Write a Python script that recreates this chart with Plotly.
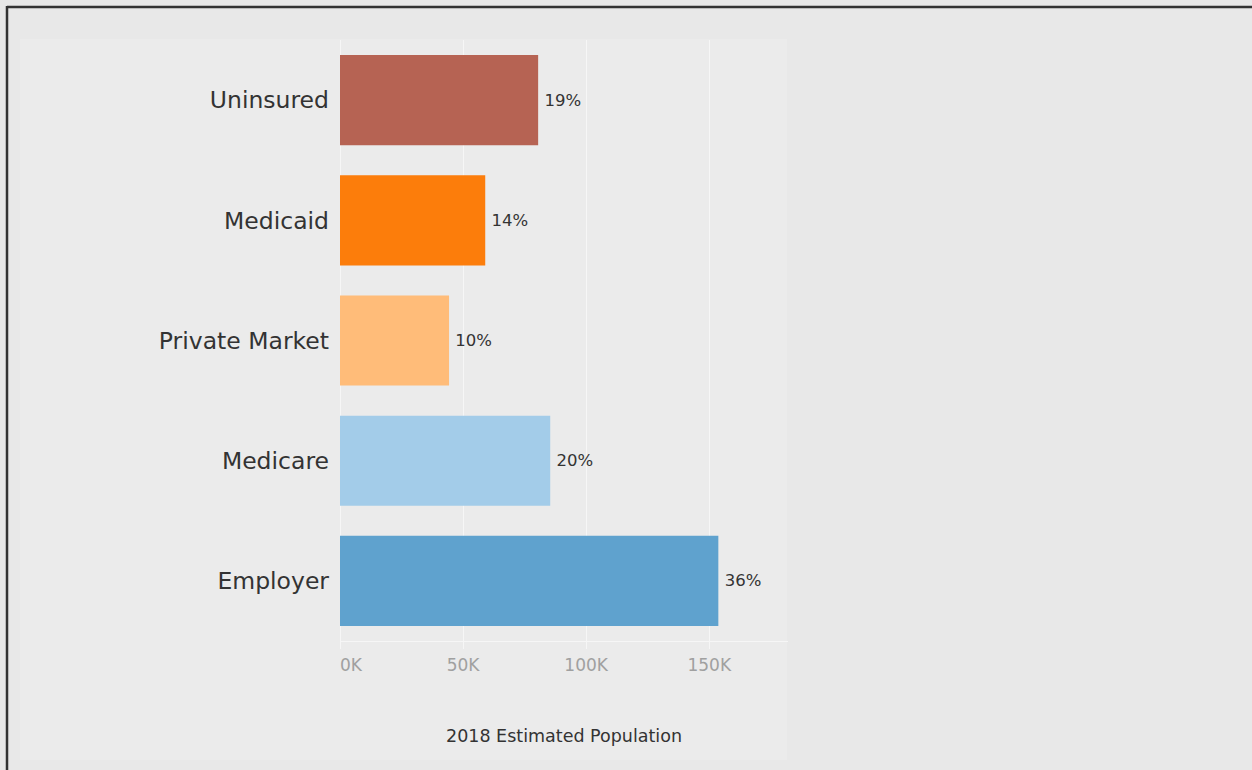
import plotly.graph_objects as go

categories = ["Uninsured", "Medicaid", "Private Market", "Medicare", "Employer"]
population = [80500, 59000, 44300, 85400, 153700]
pct_labels = ["19%", "14%", "10%", "20%", "36%"]
bar_colors = ["#b66353", "#fc7d0b", "#ffbc79", "#a3cce9", "#5fa2ce"]
tick_values = [0, 50000, 100000, 150000]
tick_labels = ["0K", "50K", "100K", "150K"]
x_title = "2018 Estimated Population"

FONT = "DejaVu Sans"
W, H = 1252, 770
L, R, T, B = 340, 464, 40, 129
pw, ph = W - L - R, H - T - B

def px(x):
    return (x - L) / pw

def py(y):
    return (H - B - y) / ph

fig = go.Figure(go.Bar(
    y=categories, x=population, orientation="h",
    marker=dict(color=bar_colors, line=dict(width=0)),
    width=0.75,
    text=["\u2009" + t for t in pct_labels], textposition="outside",
    textfont=dict(family=FONT, size=16.5, color="#333333"),
    cliponaxis=False, hoverinfo="skip",
))

shapes = [
    dict(type="rect", xref="paper", yref="paper", x0=px(20), x1=px(787), y0=py(760), y1=py(39),
         fillcolor="#ebebeb", line=dict(width=0), layer="below"),
    dict(type="line", xref="paper", yref="paper", x0=px(7), x1=px(1252), y0=py(7), y1=py(7),
         line=dict(color="#333333", width=2.5)),
    dict(type="line", xref="paper", yref="paper", x0=px(7), x1=px(7), y0=py(6), y1=py(770),
         line=dict(color="#333333", width=2.5)),
]

tick_font = dict(family=FONT, size=17, color="#a0a0a0")

fig.update_layout(
    width=W, height=H,
    margin=dict(l=L, r=R, t=T, b=B, autoexpand=False),
    paper_bgcolor="#e8e8e8", plot_bgcolor="rgba(0,0,0,0)",
    showlegend=False,
    shapes=shapes,
    xaxis=dict(range=[0, 182000], tickvals=tick_values,
               ticktext=[""] + tick_labels[1:],
               showgrid=True, gridcolor="#f6f6f6", gridwidth=1,
               zeroline=True, zerolinecolor="#f6f6f6", zerolinewidth=1,
               showline=True, linecolor="#f6f6f6", linewidth=1,
               ticks="outside", ticklen=7, tickcolor="#f6f6f6",
               ticklabelstandoff=2,
               tickfont=tick_font,
               fixedrange=True),
    yaxis=dict(categoryorder="array", categoryarray=categories, autorange="reversed",
               showgrid=False, zeroline=False, showline=False, ticks="",
               ticklabelstandoff=10,
               tickfont=dict(family=FONT, size=23.5, color="#333333"),
               fixedrange=True),
    annotations=[
        dict(text=x_title, xref="paper", yref="paper", x=0.5, y=py(736),
             xanchor="center", yanchor="middle", showarrow=False,
             font=dict(family=FONT, size=17.5, color="#333333")),
        dict(text=tick_labels[0], xref="x", yref="paper", x=tick_values[0], y=py(665),
             xanchor="left", yanchor="middle", showarrow=False, xshift=-2,
             font=tick_font),
    ],
)

fig.write_html("out.html", config={"displayModeBar": False})
